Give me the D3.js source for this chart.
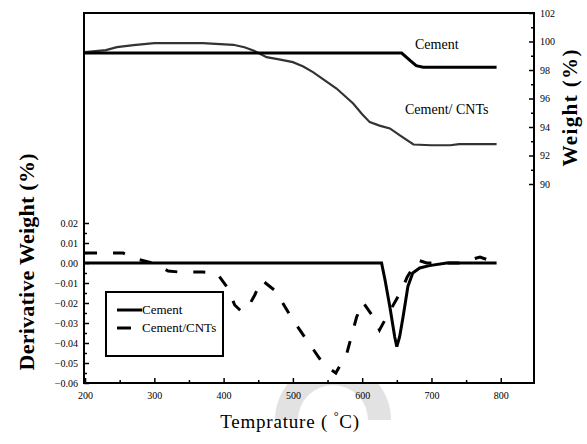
<!DOCTYPE html>
<html>
<head>
<meta charset="utf-8">
<script src="https://cdn.jsdelivr.net/npm/d3@7"></script>
<style>
  body { margin: 0; background: #fff; }
  text { font-family: "Liberation Serif", "Times New Roman", serif; fill: #000; }
</style>
</head>
<body>
<svg id="chart" width="587" height="444"></svg>
<script>
// temperatures (deg C) and values
var tgCementT   = [200, 657, 669, 678, 688, 794];
var tgCementW   = [99.19, 99.19, 98.67, 98.3, 98.2, 98.2];

var tgCntT = [200, 230, 246, 270, 300, 370, 395, 414, 430, 443, 462, 480, 500, 515, 529, 545, 563, 587, 600, 611, 625, 640, 655, 674, 700, 727, 740, 794];
var tgCntW = [99.25, 99.4, 99.6, 99.75, 99.88, 99.88, 99.82, 99.77, 99.6, 99.37, 98.9, 98.75, 98.55, 98.25, 97.85, 97.3, 96.7, 95.65, 94.9, 94.34, 94.1, 93.9, 93.4, 92.77, 92.72, 92.72, 92.8, 92.8];

var dtgCementT = [200, 628, 633, 640, 647, 650, 654, 659, 666, 673, 683, 697, 722, 794];
var dtgCementV = [0, 0, -0.0085, -0.022, -0.037, -0.0418, -0.037, -0.027, -0.0117, -0.005, -0.0025, -0.0013, 0, 0];

var dtgCntT = [200, 255, 275, 298, 320, 335, 370, 390, 405, 416, 425, 433, 445, 455, 475, 500, 530, 545, 562, 578, 592, 601, 616, 625, 640, 657, 665, 680, 693, 720, 740, 770, 794];
var dtgCntV = [0.005, 0.005, 0.002, 0, -0.004, -0.0045, -0.0045, -0.005, -0.012, -0.021, -0.024, -0.0235, -0.016, -0.0085, -0.014, -0.0285, -0.0435, -0.051, -0.055, -0.045, -0.027, -0.0195, -0.027, -0.0335, -0.024, -0.0135, -0.007, 0.0015, 0, 0, 0, 0.003, 0];

// tick values
var xTicks = [200, 300, 400, 500, 600, 700, 800];
var xMinor = [250, 350, 450, 550, 650, 750];
var yLTicks = [-0.06, -0.05, -0.04, -0.03, -0.02, -0.01, 0, 0.01, 0.02];
var yLMinor = [-0.055, -0.045, -0.035, -0.025, -0.015, -0.005, 0.005, 0.015];
var yRTicks = [90, 92, 94, 96, 98, 100, 102];
var yRMinor = [91, 93, 95, 97, 99, 101];

var svg = d3.select("#chart");
var L = 84, R = 534, T = 13, B = 383;

var x = d3.scaleLinear().domain([198.5, 848]).range([L, R]);
var yL = d3.scaleLinear().domain([-0.06, 0.02]).range([B, 223]);
var yR = d3.scaleLinear().domain([90, 102]).range([184, T]);

// faint watermark arc below the plot
svg.append("path")
  .attr("transform", "translate(333,420)")
  .attr("d", d3.arc()({innerRadius: 35, outerRadius: 58, startAngle: -Math.PI / 2, endAngle: Math.PI / 2}))
  .attr("fill", "#e2e2e2");
svg.append("rect").attr("x", L).attr("y", T).attr("width", R - L).attr("height", B - T).attr("fill", "#fff");

// axes, ticks inward
function ticks(axis, g) {
  g.call(axis);
  g.select(".domain").remove();
  g.selectAll(".tick line").attr("stroke", "#000").attr("stroke-width", 1.5);
  g.selectAll("text").attr("font-family", "Liberation Serif").attr("fill", "#000");
}
ticks(d3.axisBottom(x).tickValues(xTicks).tickSize(-5).tickPadding(9).tickFormat(d3.format("d")),
  svg.append("g").attr("transform", "translate(0," + B + ")").attr("font-size", 12));
ticks(d3.axisBottom(x).tickValues(xMinor).tickSize(-3).tickFormat(""),
  svg.append("g").attr("transform", "translate(0," + B + ")"));
ticks(d3.axisLeft(yL).tickValues(yLTicks).tickSize(-5).tickPadding(6).tickFormat(d3.format(".2f")),
  svg.append("g").attr("transform", "translate(" + L + ",0)").attr("font-size", 11));
ticks(d3.axisLeft(yL).tickValues(yLMinor).tickSize(-3).tickFormat(""),
  svg.append("g").attr("transform", "translate(" + L + ",0)"));
ticks(d3.axisRight(yR).tickValues(yRTicks).tickSize(-5).tickPadding(6).tickFormat(d3.format("d")),
  svg.append("g").attr("transform", "translate(" + R + ",0)").attr("font-size", 11));
ticks(d3.axisRight(yR).tickValues(yRMinor).tickSize(-3).tickFormat(""),
  svg.append("g").attr("transform", "translate(" + R + ",0)"));

// frame
svg.append("rect").attr("x", L).attr("y", T).attr("width", R - L).attr("height", B - T)
  .attr("fill", "none").attr("stroke", "#000").attr("stroke-width", 2);

function pairs(a, b) { return a.map(function(d, i) { return [d, b[i]]; }); }
var lineR = d3.line().x(function(d) { return x(d[0]); }).y(function(d) { return yR(d[1]); });
var lineL = d3.line().x(function(d) { return x(d[0]); }).y(function(d) { return yL(d[1]); });

svg.append("path").attr("d", lineR(pairs(tgCntT, tgCntW)))
  .attr("fill", "none").attr("stroke", "#333").attr("stroke-width", 2.2);
svg.append("path").attr("d", lineR(pairs(tgCementT, tgCementW)))
  .attr("fill", "none").attr("stroke", "#000").attr("stroke-width", 3);
svg.append("path").attr("d", lineL(pairs(dtgCementT, dtgCementV)))
  .attr("fill", "none").attr("stroke", "#000").attr("stroke-width", 3);
svg.append("path").attr("d", lineL(pairs(dtgCntT, dtgCntV)))
  .attr("fill", "none").attr("stroke", "#000").attr("stroke-width", 3)
  .attr("stroke-dasharray", "12,16");

// curve labels
svg.append("text").attr("x", 415).attr("y", 49).attr("font-size", 14).text("Cement");
svg.append("text").attr("x", 405).attr("y", 114).attr("font-size", 14).text("Cement/ CNTs");

// legend
var lg = svg.append("g");
lg.append("rect").attr("x", 106).attr("y", 292).attr("width", 117).attr("height", 64)
  .attr("fill", "#fff").attr("stroke", "#000").attr("stroke-width", 2);
lg.append("line").attr("x1", 117).attr("x2", 142).attr("y1", 310).attr("y2", 310)
  .attr("stroke", "#000").attr("stroke-width", 3);
lg.append("line").attr("x1", 117).attr("x2", 131).attr("y1", 328).attr("y2", 328)
  .attr("stroke", "#000").attr("stroke-width", 3);
lg.append("text").attr("x", 142).attr("y", 314).attr("font-size", 13).text("Cement");
lg.append("text").attr("x", 142).attr("y", 332).attr("font-size", 13).text("Cement/CNTs");

// axis titles
svg.append("text").attr("transform", "translate(34,262) rotate(-90)")
  .attr("text-anchor", "middle").attr("font-size", 22).attr("font-weight", "bold")
  .attr("textLength", 217).attr("lengthAdjust", "spacing")
  .text("Derivative Weight (%)");
svg.append("text").attr("transform", "translate(577,108) rotate(-90)")
  .attr("text-anchor", "middle").attr("font-size", 21).attr("font-weight", "bold")
  .attr("textLength", 117).attr("lengthAdjust", "spacing")
  .text("Weight (%)");
var xt = svg.append("text").attr("x", 290).attr("y", 428).attr("text-anchor", "middle")
  .attr("font-size", 19).attr("letter-spacing", 0.8);
xt.append("tspan").text("Temprature ( ");
xt.append("tspan").attr("dy", -8).attr("font-size", 12).text("\u00b0");
xt.append("tspan").attr("dy", 8).text("C)");
</script>
</body>
</html>
